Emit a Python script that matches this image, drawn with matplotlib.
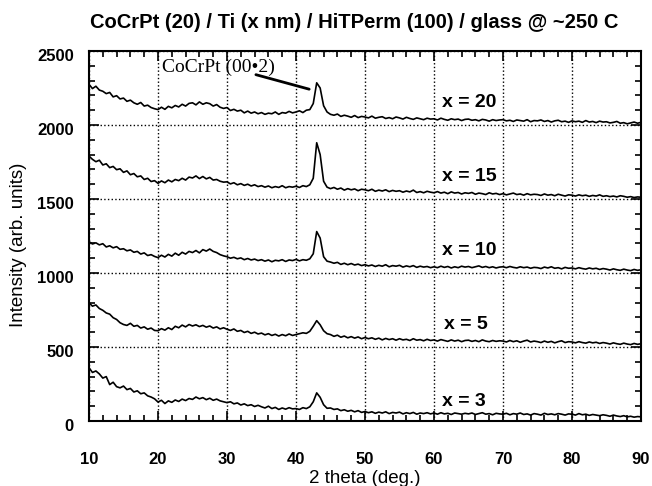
import matplotlib
matplotlib.use('Agg')
import matplotlib.pyplot as plt
import matplotlib.transforms as mtransforms
from matplotlib.ticker import MultipleLocator
import numpy as np

plt.rcParams['font.family'] = ['Liberation Sans', 'DejaVu Sans']

# 2 theta sampling grid, 10..90 deg in 0.5 deg steps
two_theta = np.arange(10, 90.01, 0.5)

# Ti thickness x = 20 nm (offset ~2000)
s20 = [2275, 2246, 2262, 2236, 2228, 2212, 2220, 2190, 2198, 2176,
       2182, 2160, 2168, 2150, 2140, 2152, 2128, 2134, 2118, 2110,
       2104, 2120, 2106, 2126, 2116, 2132, 2122, 2140, 2128, 2146,
       2150, 2136, 2156, 2140, 2150, 2144, 2128, 2138, 2120, 2112,
       2118, 2098, 2106, 2094, 2100, 2082, 2094, 2080, 2088, 2076,
       2084, 2072, 2080, 2076, 2088, 2072, 2084, 2080, 2092, 2082,
       2088, 2096, 2084, 2100, 2104, 2145, 2285, 2250, 2130, 2088,
       2072, 2066, 2074, 2058, 2066, 2060, 2052, 2064, 2050, 2058,
       2054, 2048, 2060, 2046, 2052, 2056, 2044, 2050, 2042, 2054,
       2048, 2040, 2052, 2044, 2038, 2048, 2042, 2036, 2046, 2040,
       2042, 2034, 2046, 2038, 2032, 2042, 2036, 2040, 2030, 2038,
       2040, 2032, 2036, 2028, 2038, 2034, 2026, 2036, 2030, 2034,
       2036, 2028, 2032, 2024, 2034, 2030, 2026, 2036, 2022, 2030,
       2028, 2034, 2024, 2030, 2020, 2028, 2032, 2022, 2026, 2018,
       2028, 2022, 2026, 2018, 2030, 2020, 2024, 2016, 2026, 2020,
       2022, 2014, 2018, 2024, 2012, 2016, 2008, 2014, 2020, 2012,
       2018]

# x = 15 nm
s15 = [1790, 1768, 1752, 1762, 1730, 1738, 1712, 1720, 1698, 1704,
       1680, 1690, 1664, 1672, 1650, 1656, 1632, 1640, 1618, 1624,
       1606, 1622, 1610, 1628, 1616, 1632, 1624, 1640, 1628, 1648,
       1642, 1656, 1638, 1652, 1636, 1646, 1628, 1632, 1620, 1614,
       1616, 1602, 1610, 1596, 1604, 1592, 1600, 1588, 1596, 1584,
       1590, 1580, 1588, 1576, 1584, 1578, 1590, 1576, 1584, 1580,
       1586, 1578, 1590, 1584, 1596, 1640, 1880, 1800, 1620, 1580,
       1570, 1578, 1566, 1574, 1560, 1570, 1562, 1568, 1556, 1566,
       1562, 1556, 1566, 1552, 1560, 1554, 1562, 1550, 1558, 1552,
       1556, 1546, 1554, 1548, 1560, 1544, 1550, 1542, 1552, 1546,
       1542, 1550, 1540, 1546, 1536, 1548, 1540, 1544, 1534, 1542,
       1538, 1544, 1532, 1540, 1536, 1530, 1542, 1534, 1538, 1530,
       1536, 1528, 1534, 1540, 1530, 1534, 1526, 1536, 1528, 1532,
       1530, 1524, 1534, 1526, 1530, 1522, 1532, 1526, 1520, 1528,
       1526, 1520, 1528, 1522, 1526, 1518, 1524, 1520, 1528, 1518,
       1522, 1516, 1520, 1514, 1522, 1518, 1512, 1516, 1510, 1514,
       1512]

# x = 10 nm
s10 = [1212, 1196, 1204, 1190, 1198, 1176, 1184, 1170, 1178, 1160,
       1164, 1150, 1156, 1140, 1146, 1128, 1136, 1118, 1124, 1112,
       1104, 1120, 1108, 1126, 1114, 1134, 1120, 1140, 1128, 1146,
       1138, 1152, 1136, 1158, 1148, 1162, 1146, 1138, 1124, 1116,
       1110, 1100, 1106, 1096, 1102, 1090, 1098, 1088, 1094, 1084,
       1090, 1080, 1088, 1076, 1086, 1082, 1090, 1078, 1088, 1084,
       1092, 1082, 1090, 1086, 1096, 1130, 1280, 1236, 1110, 1080,
       1074, 1066, 1072, 1058, 1066, 1056, 1064, 1054, 1060, 1050,
       1056, 1048, 1054, 1044, 1052, 1046, 1056, 1042, 1050, 1046,
       1052, 1040, 1048, 1042, 1050, 1038, 1046, 1040, 1044, 1036,
       1042, 1036, 1046, 1038, 1044, 1034, 1042, 1036, 1046, 1040,
       1044, 1036, 1042, 1048, 1038, 1044, 1036, 1042, 1034, 1040,
       1042, 1036, 1044, 1038, 1034, 1042, 1036, 1040, 1032, 1038,
       1036, 1030, 1040, 1034, 1042, 1032, 1036, 1028, 1038, 1032,
       1034, 1028, 1036, 1030, 1026, 1034, 1028, 1032, 1024, 1030,
       1026, 1020, 1028, 1022, 1018, 1026, 1020, 1016, 1024, 1018,
       1022]

# x = 5 nm
s5 = [798, 776, 784, 760, 748, 730, 722, 698, 686, 664,
      652, 646, 660, 640, 646, 628, 636, 620, 628, 612,
      610, 624, 614, 630, 618, 640, 630, 648, 636, 652,
      642, 650, 638, 646, 634, 642, 628, 636, 622, 630,
      620, 612, 622, 606, 612, 598, 606, 592, 600, 588,
      594, 582, 590, 578, 586, 574, 584, 576, 588, 578,
      584, 590, 596, 592, 606, 640, 678, 650, 610, 590,
      584, 572, 580, 566, 574, 562, 570, 560, 568, 556,
      564, 556, 562, 552, 560, 548, 558, 550, 556, 546,
      556, 548, 552, 544, 556, 546, 550, 542, 552, 544,
      548, 540, 550, 544, 538, 548, 540, 546, 536, 544,
      546, 538, 544, 536, 548, 540, 536, 544, 538, 542,
      540, 534, 544, 536, 542, 532, 540, 546, 534, 540,
      536, 530, 540, 532, 538, 528, 536, 542, 530, 536,
      534, 528, 536, 530, 526, 534, 528, 532, 524, 530,
      526, 520, 528, 522, 518, 526, 520, 516, 524, 518,
      522]

# x = 3 nm
s3 = [360, 328, 338, 318, 290, 300, 246, 262, 232, 224,
      236, 212, 220, 196, 204, 184, 190, 170, 162, 150,
      128, 140, 118, 136, 126, 142, 132, 148, 138, 152,
      146, 162, 150, 158, 144, 154, 140, 148, 136, 130,
      124, 130, 116, 122, 108, 116, 104, 110, 98, 106,
      96, 88, 100, 84, 92, 78, 88, 80, 90, 82,
      84, 78, 90, 84, 96, 130, 190, 160, 110, 86,
      88, 78, 82, 70, 76, 66, 72, 62, 70, 58,
      64, 56, 62, 52, 60, 54, 62, 50, 58, 54,
      60, 48, 56, 50, 58, 46, 54, 50, 56, 48,
      54, 46, 56, 48, 52, 44, 54, 50, 46, 52,
      48, 54, 44, 50, 56, 46, 50, 42, 52, 48,
      46, 52, 42, 50, 46, 54, 44, 48, 40, 50,
      46, 40, 52, 44, 48, 42, 50, 46, 40, 48,
      46, 40, 50, 42, 46, 38, 44, 40, 36, 42,
      38, 32, 40, 34, 30, 36, 28, 32, 26, 30,
      28]

series = [s20, s15, s10, s5, s3]
labels = ['x = 20', 'x = 15', 'x = 10', 'x = 5', 'x = 3']
label_x = [61.2, 61.2, 61.2, 61.5, 61.2]
label_y = [2155, 1650, 1155, 650, 130]

fig = plt.figure(figsize=(6.52, 4.86), dpi=100)
ax = fig.add_axes([89/652, 65/486, 552/652, 370/486])

for s in series:
    ax.plot(two_theta, s, color='black', lw=1.2)

for lab, lx, ly in zip(labels, label_x, label_y):
    ax.text(lx, ly, lab, fontsize=14, fontweight='bold', va='center', ha='left')

ax.text(20.6, 2392, 'CoCrPt (00\u20222)', fontsize=14, va='center',
        family=['Liberation Serif', 'DejaVu Serif'])
ax.annotate('', xy=(42.3, 2237), xytext=(33.8, 2345),
            arrowprops=dict(arrowstyle='-', lw=2, color='black'))

ax.set_xlim(10, 90)
ax.set_ylim(0, 2500)
ax.xaxis.set_major_locator(MultipleLocator(10))
ax.xaxis.set_minor_locator(MultipleLocator(2))
ax.yaxis.set_major_locator(MultipleLocator(500))
ax.yaxis.set_minor_locator(MultipleLocator(100))
ax.tick_params(which='both', direction='in', top=True, right=True, width=1.2)
ax.tick_params(which='major', length=7)
ax.tick_params(which='minor', length=4)
ax.tick_params(axis='x', which='major', pad=22, labelsize=12)
ax.tick_params(axis='y', which='major', pad=11, labelsize=12)
shift = mtransforms.ScaledTranslation(0, -4/100, fig.dpi_scale_trans)
for t in ax.get_xticklabels() + ax.get_yticklabels():
    t.set_fontweight('bold')
for t in ax.get_yticklabels():
    t.set_transform(t.get_transform() + shift)
for sp in ax.spines.values():
    sp.set_linewidth(1.5)

ax.grid(True, which='major', linestyle=':', color='black', lw=1.0)

ax.set_xlabel('2 theta (deg.)', fontsize=13.5)
ax.set_ylabel('Intensity (arb. units)', fontsize=13.5)
ax.xaxis.set_label_coords(0.5, -0.132)
ax.yaxis.set_label_coords(-0.113, 0.476)

fig.text(354/652, 1 - 22/486, 'CoCrPt (20) / Ti (x nm) / HiTPerm (100) / glass @ ~250 C',
         fontsize=14.5, fontweight='bold', ha='center', va='center')

fig.savefig('out.png', dpi=100)
